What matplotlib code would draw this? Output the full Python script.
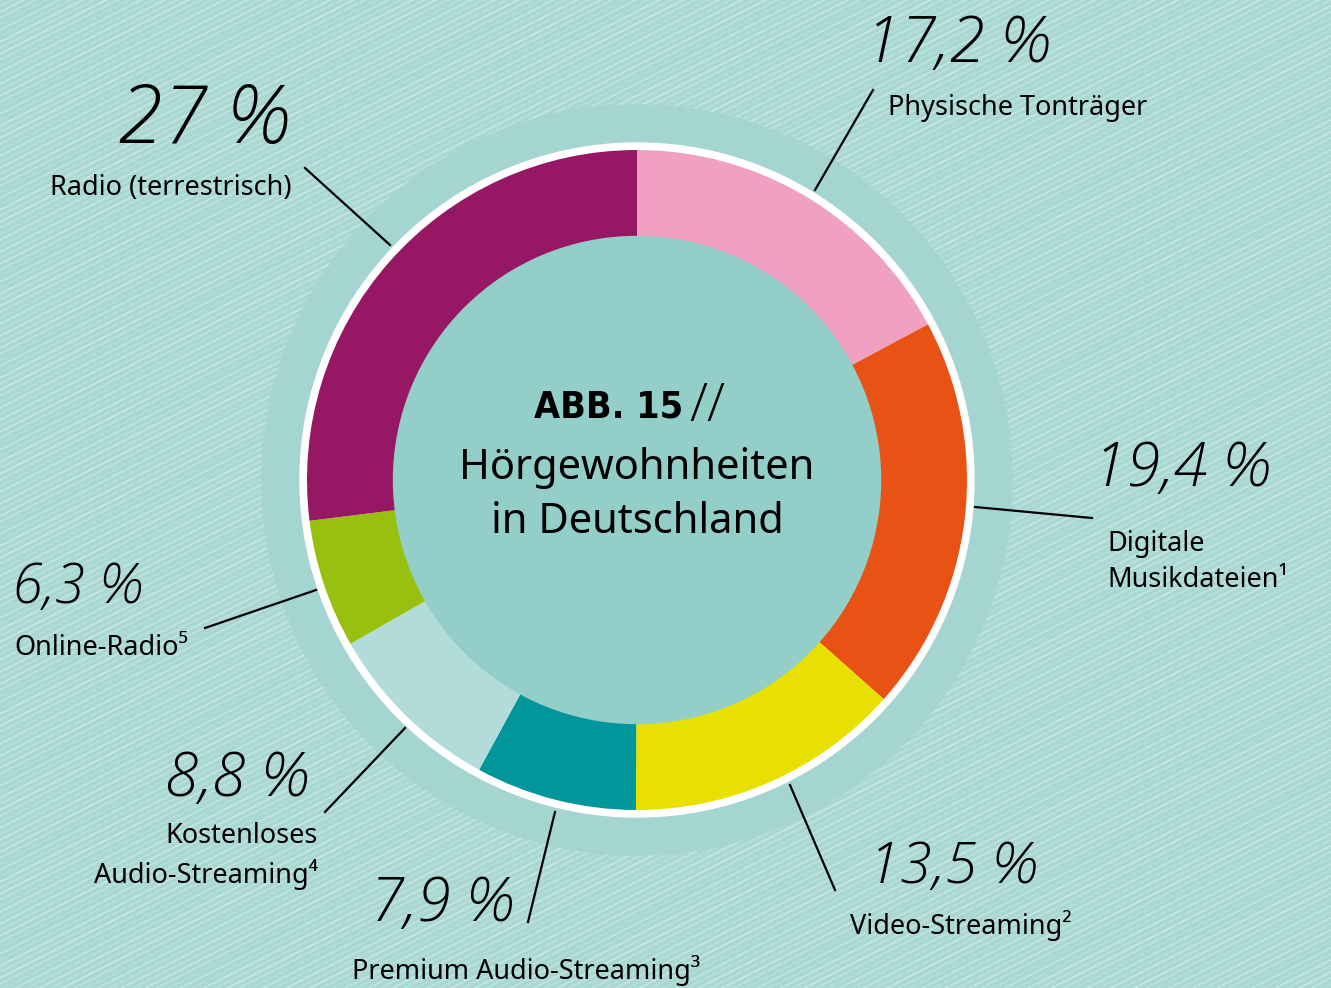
import numpy as np
import matplotlib
matplotlib.use("Agg")
import matplotlib.pyplot as plt
from matplotlib.patches import Circle

# data
categories = ["Physische Tonträger", "Digitale\nMusikdateien\u00b9", "Video-Streaming\u00b2",
              "Premium Audio-Streaming\u00b3", "Kostenloses\nAudio-Streaming\u2074",
              "Online-Radio\u2075", "Radio (terrestrisch)"]
shares = [17.2, 19.4, 13.5, 7.9, 8.8, 6.3, 27.0]
slice_colors = ["#f0a0c1", "#e85215", "#e8e000", "#00969a", "#b2dcd9", "#98c00e", "#961864"]

W, H = 1331, 988
def Y(y):
    return H - y

def pct(v):
    s = ("%.1f" % v).replace(".", ",")
    if s.endswith(",0"):
        s = s[:-2]
    return s + " %"

fig = plt.figure(figsize=(W / 100, H / 100), dpi=100)
ax = fig.add_axes([0, 0, 1, 1])
bg = "#a9d8d3"
fig.patch.set_facecolor(bg)
ax.set_facecolor(bg)

# streaky background texture
slope = np.tan(np.radians(27))
xs = np.array([0, W])
for i, c in enumerate(range(-800, 1000, 6)):
    a = 0.12 + 0.22 * ((i * 3) % 7) / 6
    ax.plot(xs, c + slope * xs, color="white", lw=1.3, alpha=a, zorder=0,
            solid_capstyle="butt")

cx, cy = 637, Y(480)
ax.add_patch(Circle((cx, cy), 375, color="#a4d5d1", zorder=1))
ax.add_patch(Circle((cx, cy), 337, color="white", zorder=2))
wedges, _ = ax.pie(shares, colors=slice_colors, startangle=90, counterclock=False,
                   radius=330, center=(cx, cy),
                   wedgeprops=dict(width=330 - 243, linewidth=0))
for w in wedges:
    w.set_zorder(3)
ax.add_patch(Circle((cx, cy), 243.5, color="#93cfc8", zorder=4))

ax.set_xlim(0, W)
ax.set_ylim(0, H)
ax.set_aspect("auto")
ax.axis("off")

# center title
ax.text(683, Y(408), "ABB. 15", ha="right", va="center", fontsize=27,
        fontweight="bold", fontstretch="condensed", family="DejaVu Sans", zorder=6)
ax.text(689, Y(407), "//", ha="left", va="center", fontsize=38,
        family=["Open Sans", "Noto Sans"], fontweight="light", zorder=6)
ax.text(cx, Y(468), "Hörgewohnheiten", ha="center", va="center", fontsize=30,
        family="Noto Sans", zorder=6)
ax.text(cx, Y(522), "in Deutschland", ha="center", va="center", fontsize=30,
        family="Noto Sans", zorder=6)

# leader lines (start on ring, end near label)
leaders = [((815, 190), (873, 90)),
           ((975, 507), (1092, 518)),
           ((790, 785), (835, 890)),
           ((555, 812), (528, 922)),
           ((405, 728), (325, 812)),
           ((316, 590), (205, 628)),
           ((390, 245), (305, 168))]
for (x0, y0), (x1, y1) in leaders:
    ax.plot([x0, x1], [Y(y0), Y(y1)], color="black", lw=1.6, zorder=7)

# label placement: (pct x, pct y, pct size, label x, label y, label align)
places = [(865, 45, 46, 888, 108, "left"),
          (1093, 470, 44, 1107, 562, "left"),
          (868, 868, 42, 850, 925, "left"),
          (370, 905, 44, 352, 970, "left"),
          (165, 780, 44, 318, 856, "right"),
          (12, 588, 40, 14, 648, "left"),
          (118, 122, 58, 50, 188, "left")]
hand = dict(family=["Open Sans", "Lato"], style="italic", fontweight="light",
            color="black", zorder=8)
lab = dict(family=["Noto Sans", "DejaVu Sans"], fontsize=19.5, color="black", zorder=8,
           linespacing=1.4)
for cat, v, (px, py, ps, lx, ly, al) in zip(categories, shares, places):
    ax.text(px, Y(py), pct(v), ha="left", va="center", fontsize=ps, **hand)
    ax.text(lx, Y(ly), cat, ha=al, va="center", multialignment=al, **lab)

fig.savefig("out.png", dpi=100, facecolor=bg)
